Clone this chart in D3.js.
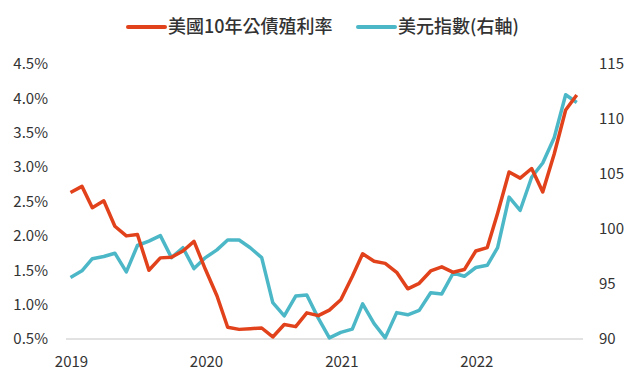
<!DOCTYPE html>
<html>
<head>
<meta charset="utf-8">
<script src="https://cdn.jsdelivr.net/npm/d3@7"></script>
<style>
  body { margin: 0; background: #fff; }
  svg text { font-family: "Noto Sans CJK TC", "Noto Sans", sans-serif; fill: #333; }
</style>
</head>
<body>
<svg id="chart" width="640" height="384"></svg>
<script>
// monthly, Jan 2019 .. Oct 2022
var startMonth = new Date(2019, 0, 1);
var yield10y = [2.63, 2.72, 2.41, 2.51, 2.14, 2.00, 2.02, 1.50, 1.68, 1.69, 1.78, 1.92,
                1.51, 1.13, 0.67, 0.64, 0.65, 0.66, 0.53, 0.71, 0.68, 0.88, 0.84, 0.92,
                1.07, 1.41, 1.74, 1.63, 1.60, 1.47, 1.23, 1.31, 1.49, 1.55, 1.47, 1.51,
                1.78, 1.83, 2.33, 2.93, 2.84, 2.98, 2.64, 3.19, 3.83, 4.05];
var dollarIndex = [95.6, 96.2, 97.3, 97.5, 97.8, 96.1, 98.5, 98.9, 99.4, 97.4, 98.3, 96.4,
                   97.4, 98.1, 99.0, 99.0, 98.3, 97.4, 93.3, 92.1, 93.9, 94.0, 91.9, 90.1,
                   90.6, 90.9, 93.2, 91.4, 90.1, 92.4, 92.2, 92.6, 94.2, 94.1, 96.0, 95.7,
                   96.5, 96.7, 98.3, 102.9, 101.7, 104.7, 106.0, 108.3, 112.2, 111.5];
var leftTicks = [0.5, 1.0, 1.5, 2.0, 2.5, 3.0, 3.5, 4.0, 4.5];
var rightTicks = [90, 95, 100, 105, 110, 115];
var yearTicks = [2019, 2020, 2021, 2022];
var seriesNames = ["美國10年公債殖利率", "美元指數(右軸)"];
var colors = ["#e2421b", "#4cb8c7"];

var svg = d3.select("#chart");
var months = yield10y.map((d, i) => d3.timeMonth.offset(startMonth, i));

var x = d3.scaleTime()
    .domain([startMonth, d3.timeMonth.offset(startMonth, 45)])
    .range([70.5, 576.75]);
var yL = d3.scaleLinear().domain([0.5, 4.5]).range([339, 64]);
var yR = d3.scaleLinear().domain([90, 115]).range([339, 64]);

// baseline
svg.append("line")
    .attr("x1", 66).attr("x2", 583)
    .attr("y1", yL(0.5)).attr("y2", yL(0.5))
    .attr("stroke", "#d9d9d9").attr("stroke-width", 1.5);

// left axis
svg.append("g").selectAll("text")
    .data(leftTicks).enter().append("text")
    .attr("x", 48).attr("y", d => yL(d))
    .attr("dy", "0.35em")
    .attr("text-anchor", "end")
    .style("font-size", "15px")
    .text(d => d.toFixed(1) + "%");

// right axis
svg.append("g").selectAll("text")
    .data(rightTicks).enter().append("text")
    .attr("x", 599).attr("y", d => yR(d))
    .attr("dy", "0.35em")
    .style("font-size", "15px")
    .text(d => d);

// x axis years
svg.append("g").selectAll("text")
    .data(yearTicks).enter().append("text")
    .attr("x", d => x(new Date(d, 0, 1)) + 1)
    .attr("y", 367)
    .attr("text-anchor", "middle")
    .style("font-size", "15px")
    .text(d => d);

var lineL = d3.line().x((d, i) => x(months[i])).y(d => yL(d));
var lineR = d3.line().x((d, i) => x(months[i])).y(d => yR(d));

svg.append("path")
    .datum(dollarIndex)
    .attr("d", lineR)
    .attr("fill", "none")
    .attr("stroke", colors[1])
    .attr("stroke-width", 3.5)
    .attr("stroke-linejoin", "round");

svg.append("path")
    .datum(yield10y)
    .attr("d", lineL)
    .attr("fill", "none")
    .attr("stroke", colors[0])
    .attr("stroke-width", 3.5)
    .attr("stroke-linejoin", "round");

// legend
var legendX = [128, 358];
var legend = svg.append("g").selectAll("g")
    .data(seriesNames).enter().append("g")
    .attr("transform", (d, i) => "translate(" + legendX[i] + ",27)");
legend.append("line")
    .attr("x1", 0).attr("x2", 37)
    .attr("stroke", (d, i) => colors[i])
    .attr("stroke-width", 4)
    .attr("stroke-linecap", "round");
legend.append("text")
    .attr("x", 40).attr("dy", "0.35em")
    .style("font-size", "18px")
    .style("font-weight", 500)
    .text(d => d);
</script>
</body>
</html>
